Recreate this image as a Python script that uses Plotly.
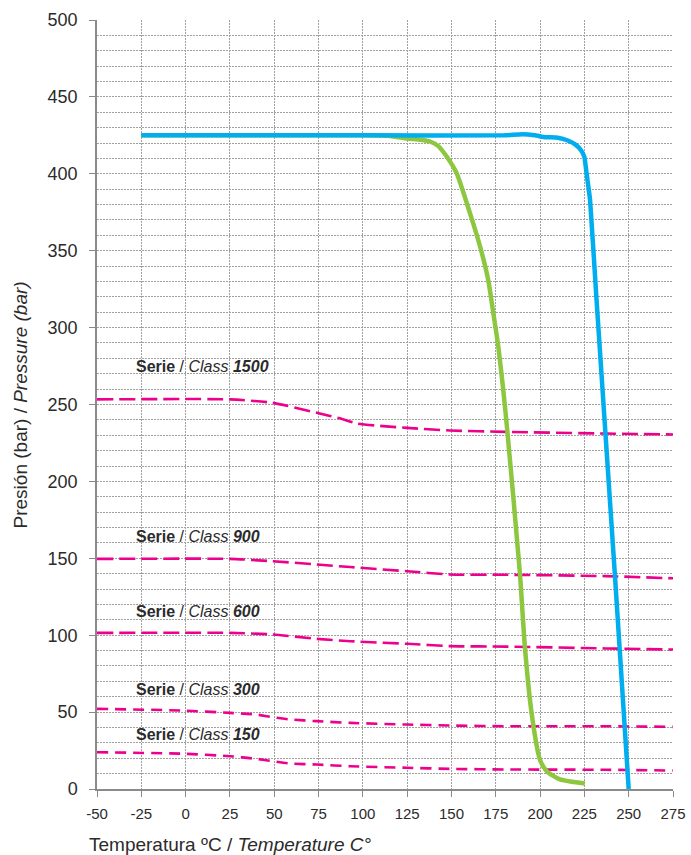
import plotly.graph_objects as go

# ---- data ----
temp_blue = [-25, 100, 180, 190, 197, 203, 210, 216, 220, 223, 225, 226.2, 228.2, 231.8, 242.4, 250]
pres_blue = [425, 425, 425, 425.7, 425, 423.8, 423.5, 421.5, 419, 415.5, 411, 400.6, 383, 319, 136, 0]

temp_green = [-25, 25, 75, 100, 115.3, 124.9, 133, 137.9, 142.6, 147.3, 152.9, 160.4, 166.1, 170.7,
              173.6, 176.4, 179.2, 181.5, 188.6, 191.4, 195.2, 199.9, 203.7, 211.2, 225.3]
pres_green = [425, 425, 425, 425, 424.6, 423, 422.2, 421, 418, 411.2, 400.4, 374.6, 352.9, 331.2,
              309.6, 287.9, 259.8, 233.0, 140.6, 92.8, 49.5, 19.2, 11.6, 6.2, 3.6]

temp_1500 = [-50, 25, 49, 74, 87, 97, 125, 149, 181, 237, 275]
pres_1500 = [253.3, 253.3, 251.1, 244.6, 241, 237.6, 234.8, 233.1, 232.2, 231.1, 230.5]

temp_900 = [-50, 25, 49, 74, 93, 125, 149, 181, 237, 275]
pres_900 = [149.6, 149.6, 148.1, 146, 144.3, 141.6, 139.5, 139.3, 138.4, 137]

temp_600 = [-50, 25, 49, 74, 93, 125, 149, 181, 237, 275]
pres_600 = [101.5, 101.5, 100.5, 97.6, 96.1, 94.4, 92.9, 92.6, 91.4, 90.7]

temp_300 = [-50, -1, 25, 40, 49, 59, 74, 93, 125, 149, 181, 237, 275]
pres_300 = [52.1, 51, 49.5, 48.4, 46.7, 45.2, 44.1, 43, 41.9, 41.3, 40.8, 40.8, 40.4]

temp_150 = [-50, -1, 25, 40, 49, 59, 74, 93, 125, 149, 181, 237, 275]
pres_150 = [23.9, 22.9, 21.3, 19.6, 18.1, 16.6, 15.9, 14.8, 13.8, 13.1, 12.7, 12.5, 12]

class_labels = ["1500", "900", "600", "300", "150"]
label_y = [274.5, 164.5, 115.5, 64.7, 35.4]

x_ticks = list(range(-50, 276, 25))
y_ticks = list(range(0, 501, 50))

PINK = "#EC008C"
BLUE = "#00AEEF"
GREEN = "#8DC63F"
TXT = "#2b2b2b"
FONT = "Arial, Liberation Sans, sans-serif"

fig = go.Figure()

pink_series = [(temp_1500, pres_1500, "16px,6px"),
               (temp_900, pres_900, "16px,6px"),
               (temp_600, pres_600, "16px,6px"),
               (temp_300, pres_300, "11px,7px"),
               (temp_150, pres_150, "11px,7px")]
for xs, ys, dash in pink_series:
    fig.add_trace(go.Scatter(x=xs, y=ys, mode="lines",
                             line=dict(color=PINK, width=2.6, dash=dash, shape="spline", smoothing=0.6),
                             hoverinfo="skip", showlegend=False))

fig.add_trace(go.Scatter(x=temp_green, y=pres_green, mode="lines",
                         line=dict(color=GREEN, width=4.5, shape="spline", smoothing=0.6),
                         showlegend=False))
fig.add_trace(go.Scatter(x=temp_blue, y=pres_blue, mode="lines",
                         line=dict(color=BLUE, width=4.5, shape="spline", smoothing=0.3),
                         showlegend=False))

for lab, yy in zip(class_labels, label_y):
    fig.add_annotation(x=-29.4, y=yy, xref="x", yref="y", xanchor="left", yanchor="middle",
                       text=f"<b>Serie</b> / <i>Class</i> <b><i>{lab}</i></b>",
                       showarrow=False, font=dict(size=16, color=TXT, family=FONT))

fig.add_annotation(x=-0.132, y=0.5, xref="paper", yref="paper", xanchor="center", yanchor="middle",
                   text="Presión (bar) / <i>Pressure (bar)</i>", textangle=-90,
                   showarrow=False, font=dict(size=19, color=TXT, family=FONT))
fig.add_annotation(x=-0.0168, y=-0.0722, xref="paper", yref="paper", xanchor="left", yanchor="middle",
                   text="Temperatura ºC / <i>Temperature C°</i>",
                   showarrow=False, font=dict(size=19, color=TXT, family=FONT))

GRID = "#a0a0a0"
AX = "#8a8a8a"
GDASH = "2px,1px"
fig.update_layout(
    width=691, height=855,
    margin=dict(l=97, r=18, t=20, b=66),
    paper_bgcolor="white", plot_bgcolor="white",
    font=dict(family=FONT, color=TXT),
    xaxis=dict(range=[-50, 275], tickvals=x_ticks, ticktext=[str(v) for v in x_ticks],
               automargin=False,
               showline=True, linecolor=AX, linewidth=1.5, ticks="outside", ticklen=6,
               tickcolor=AX, tickwidth=1.2, showgrid=True, gridcolor=GRID, griddash=GDASH,
               gridwidth=1, zeroline=False, tickfont=dict(size=15, color=TXT, family=FONT),
               ticklabelstandoff=4),
    yaxis=dict(range=[0, 500], tickvals=y_ticks, ticktext=[str(v) for v in y_ticks],
               automargin=False,
               showline=True, linecolor=AX, linewidth=1.5, ticks="outside", ticklen=6,
               tickcolor=AX, tickwidth=1.2, showgrid=True, gridcolor=GRID, griddash=GDASH,
               gridwidth=1, zeroline=False, tickfont=dict(size=18, color=TXT, family=FONT),
               ticklabelstandoff=8,
               minor=dict(dtick=10, tick0=0, showgrid=True, gridcolor=GRID, griddash=GDASH,
                          gridwidth=1, ticks="")),
)

fig.write_html("out.html", config={"displayModeBar": False},
               post_script="document.body.style.margin='0px';document.body.style.overflow='hidden';")
